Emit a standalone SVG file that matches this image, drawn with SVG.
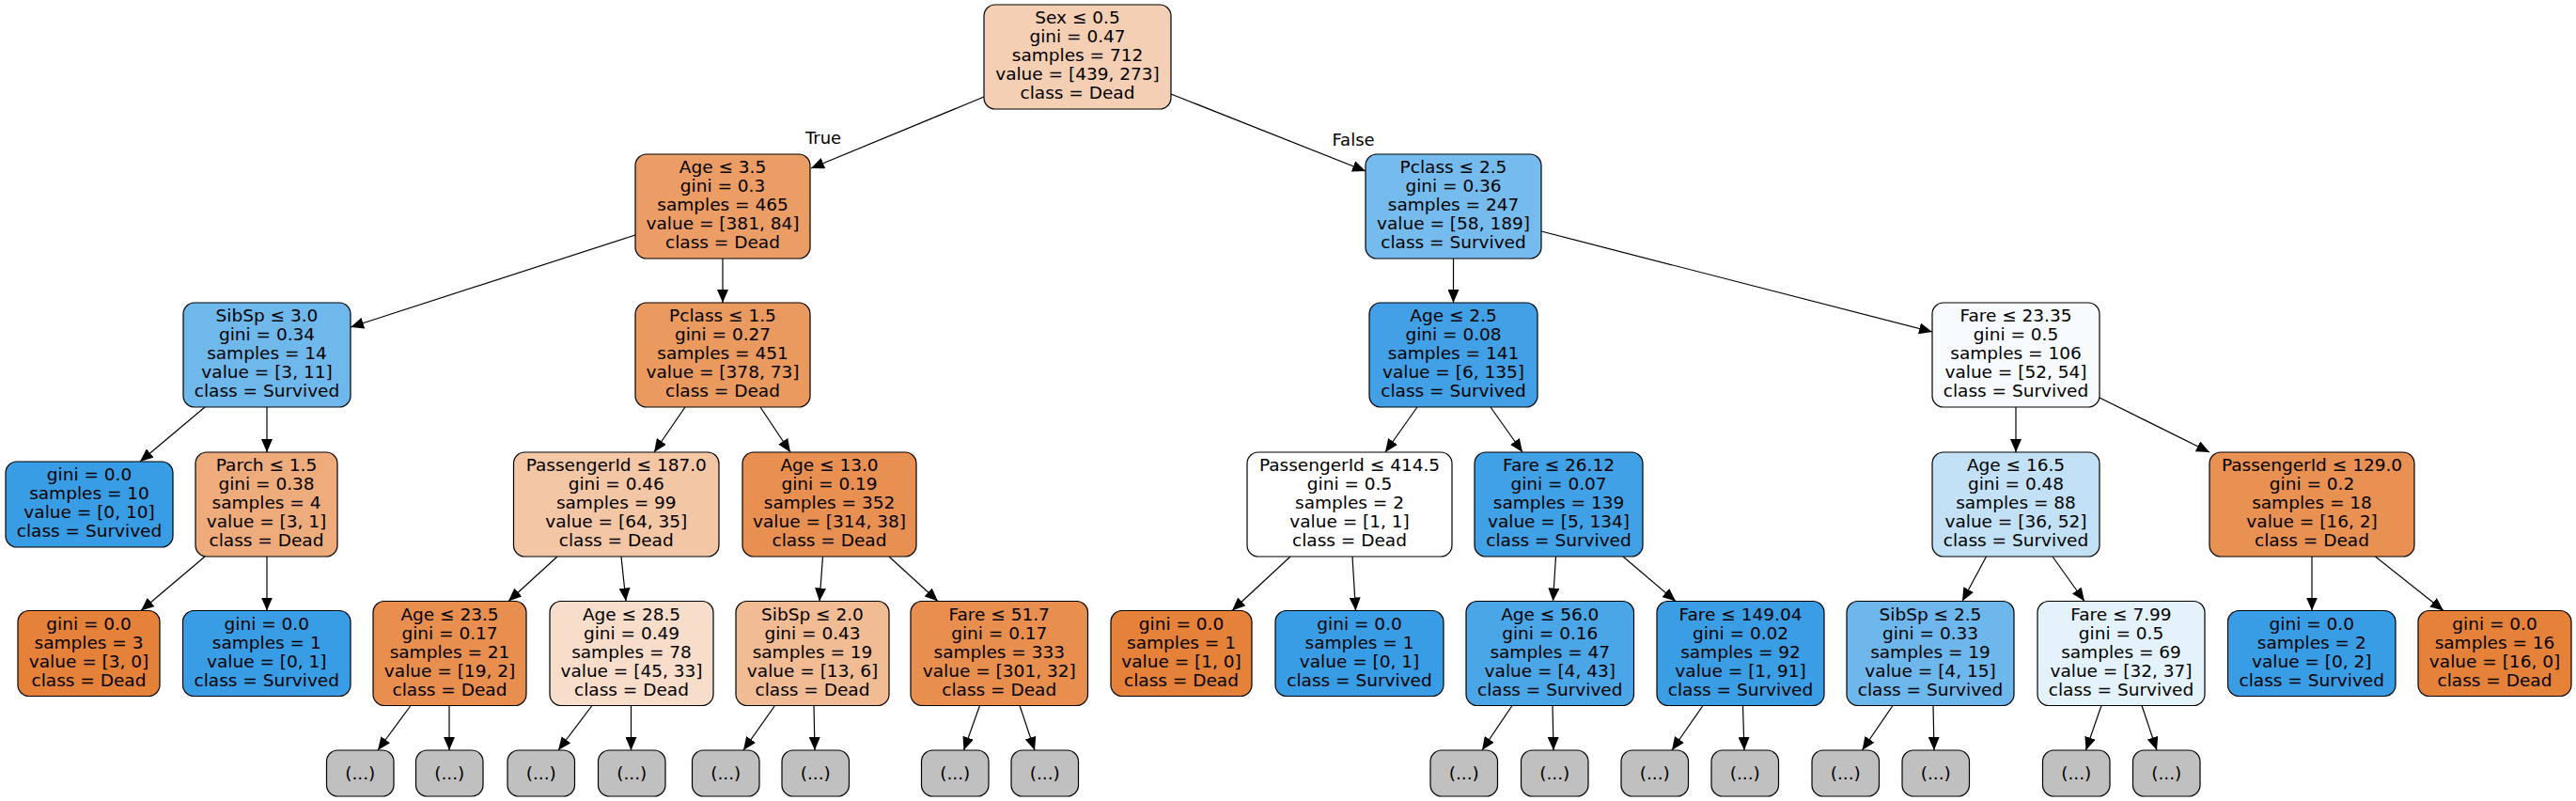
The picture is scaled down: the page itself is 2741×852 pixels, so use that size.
<svg xmlns="http://www.w3.org/2000/svg" width="2741" height="852" viewBox="0 0 2741 852">
<defs>
<marker id="ah" markerUnits="userSpaceOnUse" markerWidth="14" markerHeight="12" refX="14" refY="6" orient="auto" viewBox="0 0 14 12"><path d="M0,0 L14,6 L0,12 z" fill="#000"/></marker>
<style>
rect{stroke:#000;stroke-width:1.2}
text{font-family:"DejaVu Sans","Liberation Sans",sans-serif;font-size:18.5px;text-anchor:middle;fill:#000}
.e line{stroke:#000;stroke-width:1.2;marker-end:url(#ah)}
.g{fill:#c0c0c0}
</style>
</defs>
<rect x="0" y="0" width="2741" height="852" fill="#fff" style="stroke:none"/>
<g class="e" id="edges">
<line x1="1047" y1="103" x2="863" y2="179"/>
<line x1="1246" y1="100" x2="1453" y2="182"/>
<line x1="676" y1="250" x2="373" y2="348"/>
<line x1="769" y1="275" x2="769" y2="322"/>
<line x1="1546.5" y1="275" x2="1546.5" y2="322"/>
<line x1="1640" y1="246" x2="2056" y2="353"/>
<line x1="218" y1="433" x2="149" y2="491"/>
<line x1="284" y1="433" x2="284" y2="481"/>
<line x1="729" y1="433" x2="696" y2="481"/>
<line x1="809" y1="433" x2="841" y2="481"/>
<line x1="1508" y1="433" x2="1474" y2="481"/>
<line x1="1586" y1="433" x2="1620" y2="481"/>
<line x1="2145" y1="433" x2="2145" y2="481"/>
<line x1="2234" y1="423" x2="2351" y2="481"/>
<line x1="218" y1="592" x2="150" y2="649.5"/>
<line x1="284" y1="592" x2="284" y2="649.5"/>
<line x1="593" y1="592" x2="541" y2="639.5"/>
<line x1="661" y1="592" x2="666" y2="639.5"/>
<line x1="875.5" y1="592" x2="872" y2="639.5"/>
<line x1="946" y1="592" x2="998" y2="639.5"/>
<line x1="1373" y1="592" x2="1311" y2="649.5"/>
<line x1="1439" y1="592" x2="1442.5" y2="649.5"/>
<line x1="1655.5" y1="592" x2="1652.5" y2="639.5"/>
<line x1="1727" y1="592" x2="1783" y2="639.5"/>
<line x1="2113.5" y1="592" x2="2088" y2="639.5"/>
<line x1="2184" y1="592" x2="2218" y2="639.5"/>
<line x1="2460" y1="592" x2="2460" y2="649.5"/>
<line x1="2527.5" y1="592" x2="2600" y2="649.5"/>
<line x1="437" y1="750.5" x2="402" y2="798"/>
<line x1="478" y1="750.5" x2="478" y2="798"/>
<line x1="630" y1="750.5" x2="594" y2="798"/>
<line x1="671.5" y1="750.5" x2="671.5" y2="798"/>
<line x1="824.5" y1="750.5" x2="791" y2="798"/>
<line x1="866" y1="750.5" x2="867" y2="798"/>
<line x1="1042.5" y1="750.5" x2="1025.5" y2="798"/>
<line x1="1085" y1="750.5" x2="1101" y2="798"/>
<line x1="1609" y1="750.5" x2="1577" y2="798"/>
<line x1="1652" y1="750.5" x2="1653" y2="798"/>
<line x1="1812" y1="750.5" x2="1779" y2="798"/>
<line x1="1854.5" y1="750.5" x2="1856" y2="798"/>
<line x1="2014" y1="750.5" x2="1981.5" y2="798"/>
<line x1="2057" y1="750.5" x2="2058" y2="798"/>
<line x1="2236" y1="750.5" x2="2219.5" y2="798"/>
<line x1="2279" y1="750.5" x2="2295" y2="798"/>
<text x="876" y="153" style="font-size:18px">True</text>
<text x="1440" y="155" style="font-size:18px">False</text>
</g>
<g id="n0"><rect x="1047" y="5" width="199" height="111" rx="12" fill="#f5cfb4"/><text x="1146.5" y="25">Sex ≤ 0.5</text><text x="1146.5" y="45">gini = 0.47</text><text x="1146.5" y="65">samples = 712</text><text x="1146.5" y="85">value = [439, 273]</text><text x="1146.5" y="105">class = Dead</text></g>
<g id="n1"><rect x="676" y="164" width="186" height="111" rx="12" fill="#eb9d65"/><text x="769" y="184">Age ≤ 3.5</text><text x="769" y="204">gini = 0.3</text><text x="769" y="224">samples = 465</text><text x="769" y="244">value = [381, 84]</text><text x="769" y="264">class = Dead</text></g>
<g id="n2"><rect x="1453" y="164" width="187" height="111" rx="12" fill="#76bbed"/><text x="1546.5" y="184">Pclass ≤ 2.5</text><text x="1546.5" y="204">gini = 0.36</text><text x="1546.5" y="224">samples = 247</text><text x="1546.5" y="244">value = [58, 189]</text><text x="1546.5" y="264">class = Survived</text></g>
<g id="n3"><rect x="195" y="322" width="178" height="111" rx="12" fill="#6fb8ec"/><text x="284" y="342">SibSp ≤ 3.0</text><text x="284" y="362">gini = 0.34</text><text x="284" y="382">samples = 14</text><text x="284" y="402">value = [3, 11]</text><text x="284" y="422">class = Survived</text></g>
<g id="n4"><rect x="676" y="322" width="186" height="111" rx="12" fill="#ea995f"/><text x="769" y="342">Pclass ≤ 1.5</text><text x="769" y="362">gini = 0.27</text><text x="769" y="382">samples = 451</text><text x="769" y="402">value = [378, 73]</text><text x="769" y="422">class = Dead</text></g>
<g id="n5"><rect x="1457" y="322" width="179" height="111" rx="12" fill="#42a1e6"/><text x="1546.5" y="342">Age ≤ 2.5</text><text x="1546.5" y="362">gini = 0.08</text><text x="1546.5" y="382">samples = 141</text><text x="1546.5" y="402">value = [6, 135]</text><text x="1546.5" y="422">class = Survived</text></g>
<g id="n6"><rect x="2056" y="322" width="178" height="111" rx="12" fill="#f8fbfe"/><text x="2145" y="342">Fare ≤ 23.35</text><text x="2145" y="362">gini = 0.5</text><text x="2145" y="382">samples = 106</text><text x="2145" y="402">value = [52, 54]</text><text x="2145" y="422">class = Survived</text></g>
<g id="n7"><rect x="6" y="491" width="178" height="91" rx="12" fill="#399de5"/><text x="95" y="511">gini = 0.0</text><text x="95" y="531">samples = 10</text><text x="95" y="551">value = [0, 10]</text><text x="95" y="571">class = Survived</text></g>
<g id="n8"><rect x="208" y="481" width="151" height="111" rx="12" fill="#eeab7b"/><text x="283.5" y="501">Parch ≤ 1.5</text><text x="283.5" y="521">gini = 0.38</text><text x="283.5" y="541">samples = 4</text><text x="283.5" y="561">value = [3, 1]</text><text x="283.5" y="581">class = Dead</text></g>
<g id="n9"><rect x="546.5" y="481" width="218.5" height="111" rx="12" fill="#f3c6a5"/><text x="655.75" y="501">PassengerId ≤ 187.0</text><text x="655.75" y="521">gini = 0.46</text><text x="655.75" y="541">samples = 99</text><text x="655.75" y="561">value = [64, 35]</text><text x="655.75" y="581">class = Dead</text></g>
<g id="n10"><rect x="790" y="481" width="185" height="111" rx="12" fill="#e89051"/><text x="882.5" y="501">Age ≤ 13.0</text><text x="882.5" y="521">gini = 0.19</text><text x="882.5" y="541">samples = 352</text><text x="882.5" y="561">value = [314, 38]</text><text x="882.5" y="581">class = Dead</text></g>
<g id="n11"><rect x="1327" y="481" width="218" height="111" rx="12" fill="#ffffff"/><text x="1436" y="501">PassengerId ≤ 414.5</text><text x="1436" y="521">gini = 0.5</text><text x="1436" y="541">samples = 2</text><text x="1436" y="561">value = [1, 1]</text><text x="1436" y="581">class = Dead</text></g>
<g id="n12"><rect x="1569" y="481" width="179" height="111" rx="12" fill="#40a1e6"/><text x="1658.5" y="501">Fare ≤ 26.12</text><text x="1658.5" y="521">gini = 0.07</text><text x="1658.5" y="541">samples = 139</text><text x="1658.5" y="561">value = [5, 134]</text><text x="1658.5" y="581">class = Survived</text></g>
<g id="n13"><rect x="2056" y="481" width="178" height="111" rx="12" fill="#c2e1f7"/><text x="2145" y="501">Age ≤ 16.5</text><text x="2145" y="521">gini = 0.48</text><text x="2145" y="541">samples = 88</text><text x="2145" y="561">value = [36, 52]</text><text x="2145" y="581">class = Survived</text></g>
<g id="n14"><rect x="2351" y="481" width="218" height="111" rx="12" fill="#e89152"/><text x="2460" y="501">PassengerId ≤ 129.0</text><text x="2460" y="521">gini = 0.2</text><text x="2460" y="541">samples = 18</text><text x="2460" y="561">value = [16, 2]</text><text x="2460" y="581">class = Dead</text></g>
<g id="n15"><rect x="19" y="649.5" width="151" height="91" rx="12" fill="#e58139"/><text x="94.5" y="669.5">gini = 0.0</text><text x="94.5" y="689.5">samples = 3</text><text x="94.5" y="709.5">value = [3, 0]</text><text x="94.5" y="729.5">class = Dead</text></g>
<g id="n16"><rect x="194.5" y="649.5" width="178.5" height="91" rx="12" fill="#399de5"/><text x="283.75" y="669.5">gini = 0.0</text><text x="283.75" y="689.5">samples = 1</text><text x="283.75" y="709.5">value = [0, 1]</text><text x="283.75" y="729.5">class = Survived</text></g>
<g id="n17"><rect x="397" y="639.5" width="163" height="111" rx="12" fill="#e88e4e"/><text x="478.5" y="659.5">Age ≤ 23.5</text><text x="478.5" y="679.5">gini = 0.17</text><text x="478.5" y="699.5">samples = 21</text><text x="478.5" y="719.5">value = [19, 2]</text><text x="478.5" y="739.5">class = Dead</text></g>
<g id="n18"><rect x="585" y="639.5" width="174" height="111" rx="12" fill="#f8ddca"/><text x="672" y="659.5">Age ≤ 28.5</text><text x="672" y="679.5">gini = 0.49</text><text x="672" y="699.5">samples = 78</text><text x="672" y="719.5">value = [45, 33]</text><text x="672" y="739.5">class = Dead</text></g>
<g id="n19"><rect x="783" y="639.5" width="163" height="111" rx="12" fill="#f1bb94"/><text x="864.5" y="659.5">SibSp ≤ 2.0</text><text x="864.5" y="679.5">gini = 0.43</text><text x="864.5" y="699.5">samples = 19</text><text x="864.5" y="719.5">value = [13, 6]</text><text x="864.5" y="739.5">class = Dead</text></g>
<g id="n20"><rect x="969" y="639.5" width="188.5" height="111" rx="12" fill="#e88e4e"/><text x="1063.25" y="659.5">Fare ≤ 51.7</text><text x="1063.25" y="679.5">gini = 0.17</text><text x="1063.25" y="699.5">samples = 333</text><text x="1063.25" y="719.5">value = [301, 32]</text><text x="1063.25" y="739.5">class = Dead</text></g>
<g id="n21"><rect x="1182" y="649.5" width="150" height="91" rx="12" fill="#e58139"/><text x="1257" y="669.5">gini = 0.0</text><text x="1257" y="689.5">samples = 1</text><text x="1257" y="709.5">value = [1, 0]</text><text x="1257" y="729.5">class = Dead</text></g>
<g id="n22"><rect x="1357" y="649.5" width="179" height="91" rx="12" fill="#399de5"/><text x="1446.5" y="669.5">gini = 0.0</text><text x="1446.5" y="689.5">samples = 1</text><text x="1446.5" y="709.5">value = [0, 1]</text><text x="1446.5" y="729.5">class = Survived</text></g>
<g id="n23"><rect x="1560" y="639.5" width="178.5" height="111" rx="12" fill="#4ba6e7"/><text x="1649.25" y="659.5">Age ≤ 56.0</text><text x="1649.25" y="679.5">gini = 0.16</text><text x="1649.25" y="699.5">samples = 47</text><text x="1649.25" y="719.5">value = [4, 43]</text><text x="1649.25" y="739.5">class = Survived</text></g>
<g id="n24"><rect x="1763" y="639.5" width="178" height="111" rx="12" fill="#3b9ee5"/><text x="1852" y="659.5">Fare ≤ 149.04</text><text x="1852" y="679.5">gini = 0.02</text><text x="1852" y="699.5">samples = 92</text><text x="1852" y="719.5">value = [1, 91]</text><text x="1852" y="739.5">class = Survived</text></g>
<g id="n25"><rect x="1965" y="639.5" width="178" height="111" rx="12" fill="#6eb7ec"/><text x="2054" y="659.5">SibSp ≤ 2.5</text><text x="2054" y="679.5">gini = 0.33</text><text x="2054" y="699.5">samples = 19</text><text x="2054" y="719.5">value = [4, 15]</text><text x="2054" y="739.5">class = Survived</text></g>
<g id="n26"><rect x="2168" y="639.5" width="178" height="111" rx="12" fill="#e4f2fb"/><text x="2257" y="659.5">Fare ≤ 7.99</text><text x="2257" y="679.5">gini = 0.5</text><text x="2257" y="699.5">samples = 69</text><text x="2257" y="719.5">value = [32, 37]</text><text x="2257" y="739.5">class = Survived</text></g>
<g id="n27"><rect x="2370.5" y="649.5" width="178.5" height="91" rx="12" fill="#399de5"/><text x="2459.75" y="669.5">gini = 0.0</text><text x="2459.75" y="689.5">samples = 2</text><text x="2459.75" y="709.5">value = [0, 2]</text><text x="2459.75" y="729.5">class = Survived</text></g>
<g id="n28"><rect x="2573" y="649.5" width="163" height="91" rx="12" fill="#e58139"/><text x="2654.5" y="669.5">gini = 0.0</text><text x="2654.5" y="689.5">samples = 16</text><text x="2654.5" y="709.5">value = [16, 0]</text><text x="2654.5" y="729.5">class = Dead</text></g>
<g id="t1"><rect class="g" x="347.5" y="798" width="71.5" height="49" rx="12"/><text x="383.25" y="828.5">(...)</text></g>
<g id="t2"><rect class="g" x="442.5" y="798" width="71.5" height="49" rx="12"/><text x="478.25" y="828.5">(...)</text></g>
<g id="t3"><rect class="g" x="540" y="798" width="71.5" height="49" rx="12"/><text x="575.75" y="828.5">(...)</text></g>
<g id="t4"><rect class="g" x="636.5" y="798" width="71.5" height="49" rx="12"/><text x="672.25" y="828.5">(...)</text></g>
<g id="t5"><rect class="g" x="736.5" y="798" width="71.5" height="49" rx="12"/><text x="772.25" y="828.5">(...)</text></g>
<g id="t6"><rect class="g" x="832" y="798" width="71.5" height="49" rx="12"/><text x="867.75" y="828.5">(...)</text></g>
<g id="t7"><rect class="g" x="980.5" y="798" width="71.5" height="49" rx="12"/><text x="1016.25" y="828.5">(...)</text></g>
<g id="t8"><rect class="g" x="1076" y="798" width="71.5" height="49" rx="12"/><text x="1111.75" y="828.5">(...)</text></g>
<g id="t9"><rect class="g" x="1522" y="798" width="71.5" height="49" rx="12"/><text x="1557.75" y="828.5">(...)</text></g>
<g id="t10"><rect class="g" x="1618.5" y="798" width="71.5" height="49" rx="12"/><text x="1654.25" y="828.5">(...)</text></g>
<g id="t11"><rect class="g" x="1725" y="798" width="71.5" height="49" rx="12"/><text x="1760.75" y="828.5">(...)</text></g>
<g id="t12"><rect class="g" x="1821" y="798" width="71.5" height="49" rx="12"/><text x="1856.75" y="828.5">(...)</text></g>
<g id="t13"><rect class="g" x="1928" y="798" width="71.5" height="49" rx="12"/><text x="1963.75" y="828.5">(...)</text></g>
<g id="t14"><rect class="g" x="2024" y="798" width="71.5" height="49" rx="12"/><text x="2059.75" y="828.5">(...)</text></g>
<g id="t15"><rect class="g" x="2173.5" y="798" width="71.5" height="49" rx="12"/><text x="2209.25" y="828.5">(...)</text></g>
<g id="t16"><rect class="g" x="2269.5" y="798" width="71.5" height="49" rx="12"/><text x="2305.25" y="828.5">(...)</text></g>
</svg>
